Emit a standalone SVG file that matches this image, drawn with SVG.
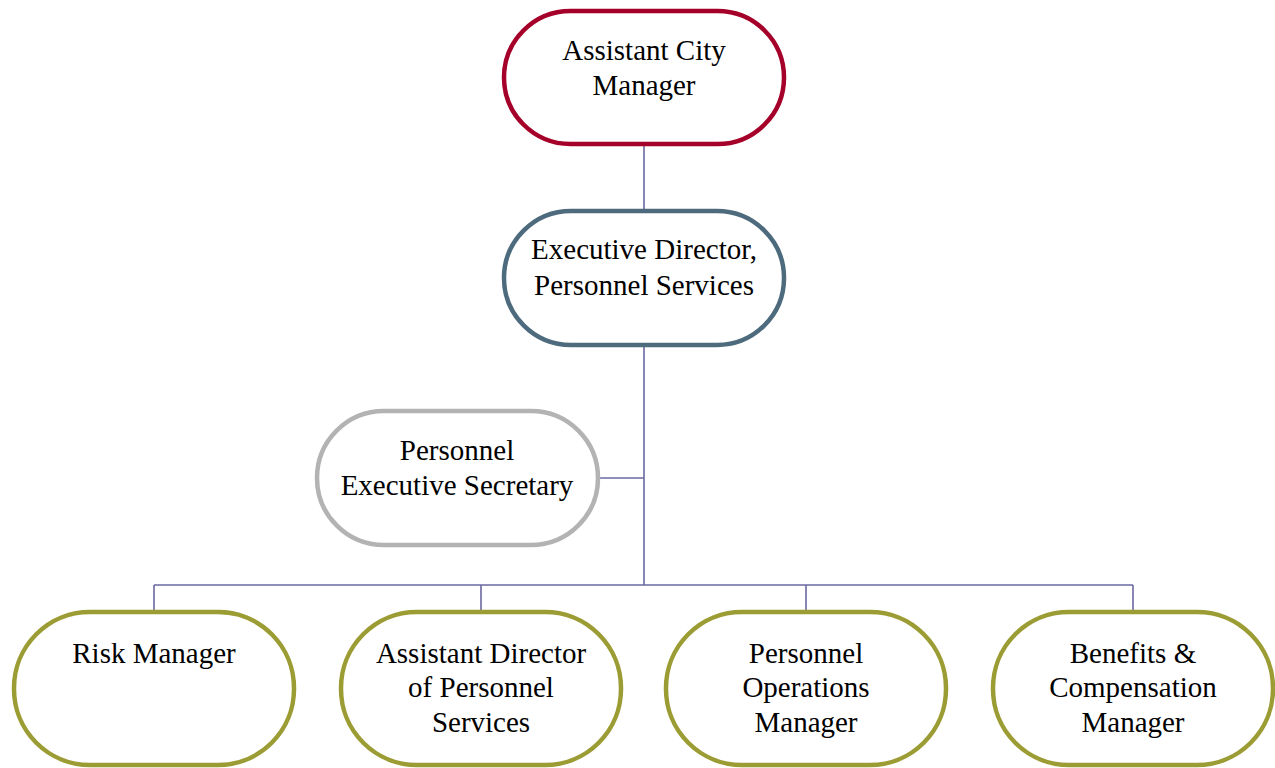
<svg xmlns="http://www.w3.org/2000/svg" width="1275" height="768" viewBox="0 0 1275 768">
<style>
.n{fill:#fff;stroke-width:4.5}
.t{font-family:"Liberation Serif","Times New Roman",serif;font-size:29px;fill:#000;text-anchor:middle}
.c{stroke:#6B68A3;stroke-width:1.6;fill:none}
</style>
<rect width="1275" height="768" fill="#fff"/>
<g id="connectors">
<path class="c" d="M644 145V211M644 345V585M598 478H644M154 585H1133M154 585V612M481 585V612M806 585V612M1133 585V612"/>
</g>
<g id="acm">
<rect class="n" x="504" y="11" width="280" height="133" rx="66.5" stroke="#A5002A"/>
<text class="t" x="644" y="60">Assistant City</text>
<text class="t" x="644" y="95">Manager</text>
</g>
<g id="exec">
<rect class="n" x="504" y="211" width="280" height="134" rx="67" stroke="#4E6B7E"/>
<text class="t" x="644" y="259">Executive Director,</text>
<text class="t" x="644" y="295">Personnel Services</text>
</g>
<g id="secretary">
<rect class="n" x="317" y="411" width="281" height="134" rx="67" stroke="#B3B3B3"/>
<text class="t" x="457" y="460">Personnel</text>
<text class="t" x="457" y="495">Executive Secretary</text>
</g>
<g id="risk">
<rect class="n" x="14" y="612" width="280" height="153" rx="76" stroke="#9C9C34"/>
<text class="t" x="154" y="663">Risk Manager</text>
</g>
<g id="asstdir">
<rect class="n" x="341" y="612" width="280" height="153" rx="76" stroke="#9C9C34"/>
<text class="t" x="481" y="663">Assistant Director</text>
<text class="t" x="481" y="697">of Personnel</text>
<text class="t" x="481" y="732">Services</text>
</g>
<g id="ops">
<rect class="n" x="666" y="612" width="280" height="153" rx="76" stroke="#9C9C34"/>
<text class="t" x="806" y="663">Personnel</text>
<text class="t" x="806" y="697">Operations</text>
<text class="t" x="806" y="732">Manager</text>
</g>
<g id="benefits">
<rect class="n" x="993" y="612" width="280" height="153" rx="76" stroke="#9C9C34"/>
<text class="t" x="1133" y="663">Benefits &amp;</text>
<text class="t" x="1133" y="697">Compensation</text>
<text class="t" x="1133" y="732">Manager</text>
</g>
</svg>
